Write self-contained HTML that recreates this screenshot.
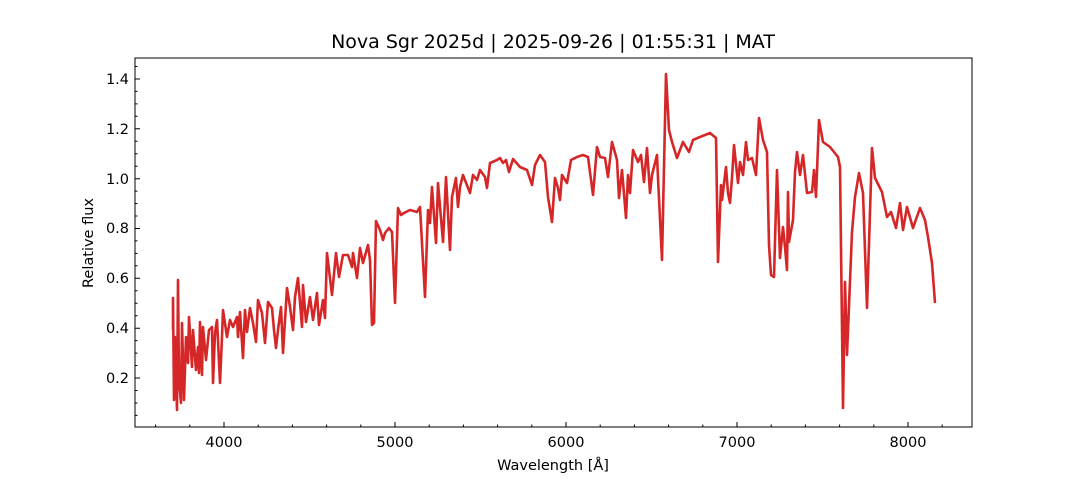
<!DOCTYPE html>
<html><head><style>body{margin:0;background:#fff}svg{display:block}text{font-family:"DejaVu Sans","Liberation Sans",sans-serif;fill:#000}</style></head>
<body>
<svg width="1080" height="480" viewBox="0 0 1080 480" xmlns="http://www.w3.org/2000/svg">
<rect width="1080" height="480" fill="#fff"/>
<text x="553" y="48" font-size="19" text-anchor="middle">Nova Sgr 2025d | 2025-09-26 | 01:55:31 | MAT</text>
<defs><clipPath id="c"><rect x="135" y="58" width="837" height="369"/></clipPath></defs>
<polyline clip-path="url(#c)" fill="none" stroke="#d62728" stroke-width="2.6" stroke-linejoin="round" points="
173,330 173,298 174,400 175,337 177,410 178,280 179,380 181,403 182,323 184,400 186,337 188,363 189,317 192,367 193,330 196,370 198,347 199,373 200,322 202,375 203,327 206,360 209,330 212,327 213,383 215,333 217,320 220,383 222,337 223,310 227,337 230,320 233,327 237,317 238,337 240,312 243,358 245,310 247,332 250,308 253,323 256,342 258,300 262,313 265,343 268,302 272,308 274,330 276,348 278,330 281,307 283,353 287,288 290,307 293,330 295,297 298,278 302,327 303,285 306,322 310,297 313,320 317,293 319,325 323,300 325,318 327,253 332,295 336,253 339,277 343,255 348,255 352,267 353,253 357,278 360,248 363,263 368,245 370,260 372,325 374,323 376,221 380,230 383,240 385,233 389,228 392,232 395,303 398,208 401,215 404,213 410,210 417,212 420,207 425,297 428,210 430,223 432,187 436,243 438,183 443,242 446,177 450,250 452,197 456,178 458,207 460,187 463,175 470,193 473,175 477,180 480,170 485,177 487,188 490,163 497,160 500,158 503,163 506,160 509,172 513,159 520,167 527,170 532,185 535,165 540,155 545,162 548,197 552,222 555,178 558,188 560,200 562,175 567,183 571,160 577,157 583,155 588,157 593,195 597,147 600,157 605,158 608,177 612,142 617,160 619,198 622,170 626,218 628,175 630,193 633,150 638,162 641,155 644,182 647,148 650,193 652,175 657,155 658,178 662,260 666,74 669,130 672,142 677,158 683,142 689,152 693,140 700,137 710,133 716,138 718,262 721,185 722,200 726,167 728,193 730,203 732,178 734,145 738,183 740,162 743,175 746,142 748,160 752,158 756,175 759,118 763,140 767,152 769,245 771,275 774,277 777,170 780,258 783,227 785,247 787,270 788,192 789,242 793,220 795,172 797,152 800,175 803,155 807,193 812,192 814,170 816,197 819,120 823,142 830,147 838,157 840,167 843,408 845,282 847,355 852,232 855,197 859,173 863,193 867,308 872,148 875,178 882,192 887,217 891,212 896,228 900,203 903,230 907,207 913,228 920,208 925,220 928,237 932,263 935,303"/>
<rect x="135" y="58" width="837" height="369" fill="none" stroke="#000" stroke-width="1"/>
<g stroke="#000" stroke-width="1">
<path d="M224,427v-5M395,427v-5M566,427v-5M737,427v-5M908,427v-5"/>
<path d="M155.6,427v-2.5M189.8,427v-2.5M258.2,427v-2.5M292.4,427v-2.5M326.6,427v-2.5M360.8,427v-2.5M429.2,427v-2.5M463.4,427v-2.5M497.6,427v-2.5M531.8,427v-2.5M600.2,427v-2.5M634.4,427v-2.5M668.6,427v-2.5M702.8,427v-2.5M771.2,427v-2.5M805.4,427v-2.5M839.6,427v-2.5M873.8,427v-2.5M942.2,427v-2.5"/>
<path d="M135,378h5M135,328.2h5M135,278.3h5M135,228.5h5M135,178.7h5M135,128.8h5M135,79h5"/>
<path d="M135,415.4h2.5M135,403h2.5M135,390.5h2.5M135,365.5h2.5M135,353.1h2.5M135,340.6h2.5M135,315.7h2.5M135,303.2h2.5M135,290.8h2.5M135,265.8h2.5M135,253.4h2.5M135,240.9h2.5M135,216h2.5M135,203.5h2.5M135,191.1h2.5M135,166.2h2.5M135,153.7h2.5M135,141.3h2.5M135,116.3h2.5M135,103.9h2.5M135,91.4h2.5M135,66.5h2.5"/>
</g>
<g font-size="14.5" text-anchor="middle">
<text x="224" y="447">4000</text><text x="395" y="447">5000</text><text x="566" y="447">6000</text><text x="737" y="447">7000</text><text x="908" y="447">8000</text>
<text x="553" y="470">Wavelength [Å]</text>
</g>
<g font-size="14.5" text-anchor="end">
<text x="129" y="383">0.2</text><text x="129" y="333">0.4</text><text x="129" y="283">0.6</text><text x="129" y="233">0.8</text><text x="129" y="184">1.0</text><text x="129" y="134">1.2</text><text x="129" y="84">1.4</text>
</g>
<text x="93" y="243" font-size="14.5" text-anchor="middle" transform="rotate(-90 93 243)">Relative flux</text>
</svg>
</body></html>
